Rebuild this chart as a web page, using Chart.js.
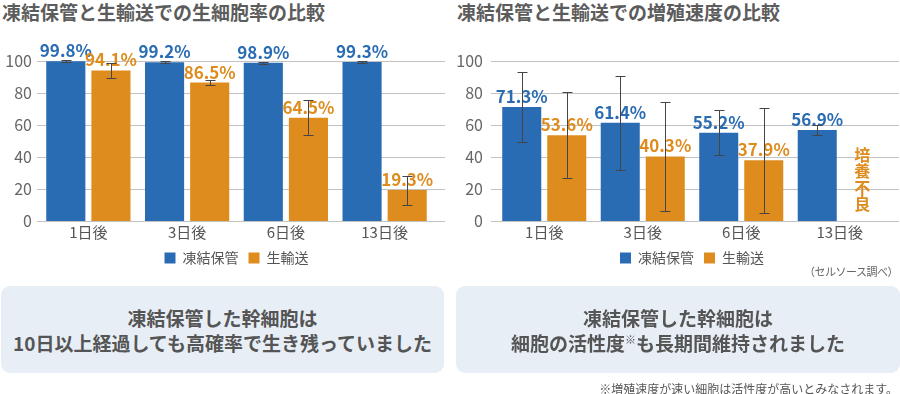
<!DOCTYPE html>
<html lang="ja">
<head>
<meta charset="utf-8">
<title>凍結保管と生輸送の比較</title>
<script src="https://cdn.jsdelivr.net/npm/chart.js@4.4.1/dist/chart.umd.min.js"></script>
<style>
  body { margin: 0; width: 900px; height: 394px; position: relative; overflow: hidden; background: #fff;
         font-family: "Noto Sans CJK JP", sans-serif; color: #555; }
  .title { position: absolute; top: 0; margin: 0; font-size: 19px; line-height: 24px; font-weight: bold; color: #5c5c5c; }
  .chart { position: absolute; top: 30px; width: 450px; height: 250px; }
  .msg { position: absolute; top: 286px; height: 87px; background: #e8eef6; border-radius: 9px;
         display: flex; align-items: center; justify-content: center; text-align: center;
         font-size: 19px; line-height: 25px; font-weight: bold; color: #555; }
  .msg sup { font-size: 11px; vertical-align: 7px; line-height: 0; }
  .note { position: absolute; right: 2px; color: #555; white-space: nowrap; }
</style>
</head>
<body>
<h2 class="title" style="left:2px">凍結保管と生輸送での生細胞率の比較</h2>
<h2 class="title" style="left:457px">凍結保管と生輸送での増殖速度の比較</h2>

<div class="chart" style="left:0"><canvas id="survival"></canvas></div>
<div class="chart" style="left:450px"><canvas id="growth"></canvas></div>

<div class="note" style="top:263px;font-size:11px;letter-spacing:-0.5px;color:#666">（セルソース調べ）</div>

<div class="msg" style="left:1px;width:443px"><div>凍結保管した幹細胞は<br>10日以上経過しても高確率で生き残っていました</div></div>
<div class="msg" style="left:456px;width:444px"><div>凍結保管した幹細胞は<br>細胞の活性度<sup>※</sup>も長期間維持されました</div></div>
<div class="note" style="top:380px;font-size:12px">※増殖速度が速い細胞は活性度が高いとみなされます。</div>

<script>
// categories and series
const categories = ["1日後", "3日後", "6日後", "13日後"];
const seriesNames = ["凍結保管", "生輸送"];
const yTicks = [0, 20, 40, 60, 80, 100];

// 生細胞率 (%)
const survivalFrozen = [99.8, 99.2, 98.9, 99.3];
const survivalFrozenErr = [0.6, 0.5, 0.5, 0.5];
const survivalFresh = [94.1, 86.5, 64.5, 19.3];
const survivalFreshErr = [4.5, 1.8, 10.9, 9.0];

// 増殖速度 (%)
const growthFrozen = [71.3, 61.4, 55.2, 56.9];
const growthFrozenErr = [22, 29.5, 14, 3];
const growthFresh = [53.6, 40.3, 37.9, null];
const growthFreshErr = [27, 34, 33, null];
const growthFreshNotes = [null, null, null, "培養不良"];

const BLUE = "#2a6cb4";
const ORANGE = "#df8c1f";
const FONT = '"Noto Sans CJK JP", sans-serif';

// gridlines a little wider than the bar area, behind the bars
const gridPlugin = {
  id: "extGrid",
  beforeDatasetsDraw(chart, args, opts) {
    const { ctx, chartArea: a, scales: { y } } = chart;
    ctx.save();
    ctx.strokeStyle = "#c2c2c2";
    ctx.lineWidth = 1;
    y.ticks.forEach(t => {
      const py = Math.round(y.getPixelForValue(t.value)) + 0.5;
      ctx.beginPath();
      ctx.moveTo(a.left - opts.left, py);
      ctx.lineTo(a.right + opts.right, py);
      ctx.stroke();
    });
    ctx.restore();
  }
};

// value labels, notes and error bars
const barExtras = {
  id: "barExtras",
  afterDatasetsDraw(chart) {
    const { ctx, scales: { y } } = chart;
    ctx.save();
    chart.data.datasets.forEach((ds, di) => {
      const meta = chart.getDatasetMeta(di);
      meta.data.forEach((bar, i) => {
        const v = ds.data[i];
        ctx.fillStyle = ds.backgroundColor;
        ctx.textAlign = "center";
        if (v == null) {
          const note = ds.notes && ds.notes[i];
          if (!note) return;
          ctx.font = "bold 16px " + FONT;
          ctx.textBaseline = "middle";
          const chars = [...note].reverse();
          const base = y.getPixelForValue(0) - 17;
          chars.forEach((c, k) => ctx.fillText(c, bar.x, base - k * 16.3));
          return;
        }
        ctx.font = "bold 17px " + FONT;
        ctx.textBaseline = "bottom";
        ctx.fillText(v.toFixed(1) + "%", bar.x, bar.y - 2);
      });
    });
    // error bars over the labels
    ctx.strokeStyle = "#454545";
    ctx.lineWidth = 1;
    chart.data.datasets.forEach((ds, di) => {
      const meta = chart.getDatasetMeta(di);
      meta.data.forEach((bar, i) => {
        const v = ds.data[i], e = ds.errors[i];
        if (v == null || e == null) return;
        const x = Math.round(bar.x) + 0.5;
        const top = Math.round(y.getPixelForValue(v + e)) + 0.5;
        const bot = Math.round(y.getPixelForValue(v - e)) + 0.5;
        ctx.beginPath();
        ctx.moveTo(x, top); ctx.lineTo(x, bot);
        ctx.moveTo(x - 5, top); ctx.lineTo(x + 5, top);
        ctx.moveTo(x - 5, bot); ctx.lineTo(x + 5, bot);
        ctx.stroke();
      });
    });
    ctx.restore();
  }
};

function makeChart(id, frozen, frozenErr, fresh, freshErr, notes, axisWidth, labelPad, padRight, gridExt) {
  return new Chart(document.getElementById(id), {
    type: "bar",
    data: {
      labels: categories,
      datasets: [
        { label: seriesNames[0], data: frozen, errors: frozenErr, backgroundColor: BLUE },
        { label: seriesNames[1], data: fresh, errors: freshErr, notes: notes, backgroundColor: ORANGE }
      ]
    },
    options: {
      responsive: true,
      maintainAspectRatio: false,
      animation: false,
      barPercentage: 0.867,
      categoryPercentage: 0.914,
      layout: { padding: { top: 31, right: padRight, bottom: 5, left: 0 } },
      scales: {
        x: {
          grid: { display: false, drawTicks: false },
          border: { display: false },
          ticks: { padding: 2, color: "#555", font: { family: FONT, size: 15 } },
          afterFit: s => { s.height = 20; }
        },
        y: {
          min: 0,
          max: 100,
          grid: { display: false, drawTicks: false },
          border: { display: false },
          afterBuildTicks: s => { s.ticks = yTicks.map(v => ({ value: v })); },
          ticks: { padding: labelPad, color: "#666", font: { family: FONT, size: 16 } },
          afterFit: s => { s.width = axisWidth; }
        }
      },
      plugins: {
        legend: {
          position: "bottom",
          fullSize: false,
          labels: { boxWidth: 11, boxHeight: 11, padding: 10, color: "#555", font: { family: FONT, size: 14 } }
        },
        tooltip: { enabled: false },
        extGrid: gridExt
      }
    },
    plugins: [gridPlugin, barExtras]
  });
}

makeChart("survival", survivalFrozen, survivalFrozenErr, survivalFresh, survivalFreshErr, null, 39, 7, 16, { left: 2, right: 11 });
makeChart("growth", growthFrozen, growthFrozenErr, growthFresh, growthFreshErr, growthFreshNotes, 45, 12, 11, { left: 4, right: 10 });
</script>
</body>
</html>
